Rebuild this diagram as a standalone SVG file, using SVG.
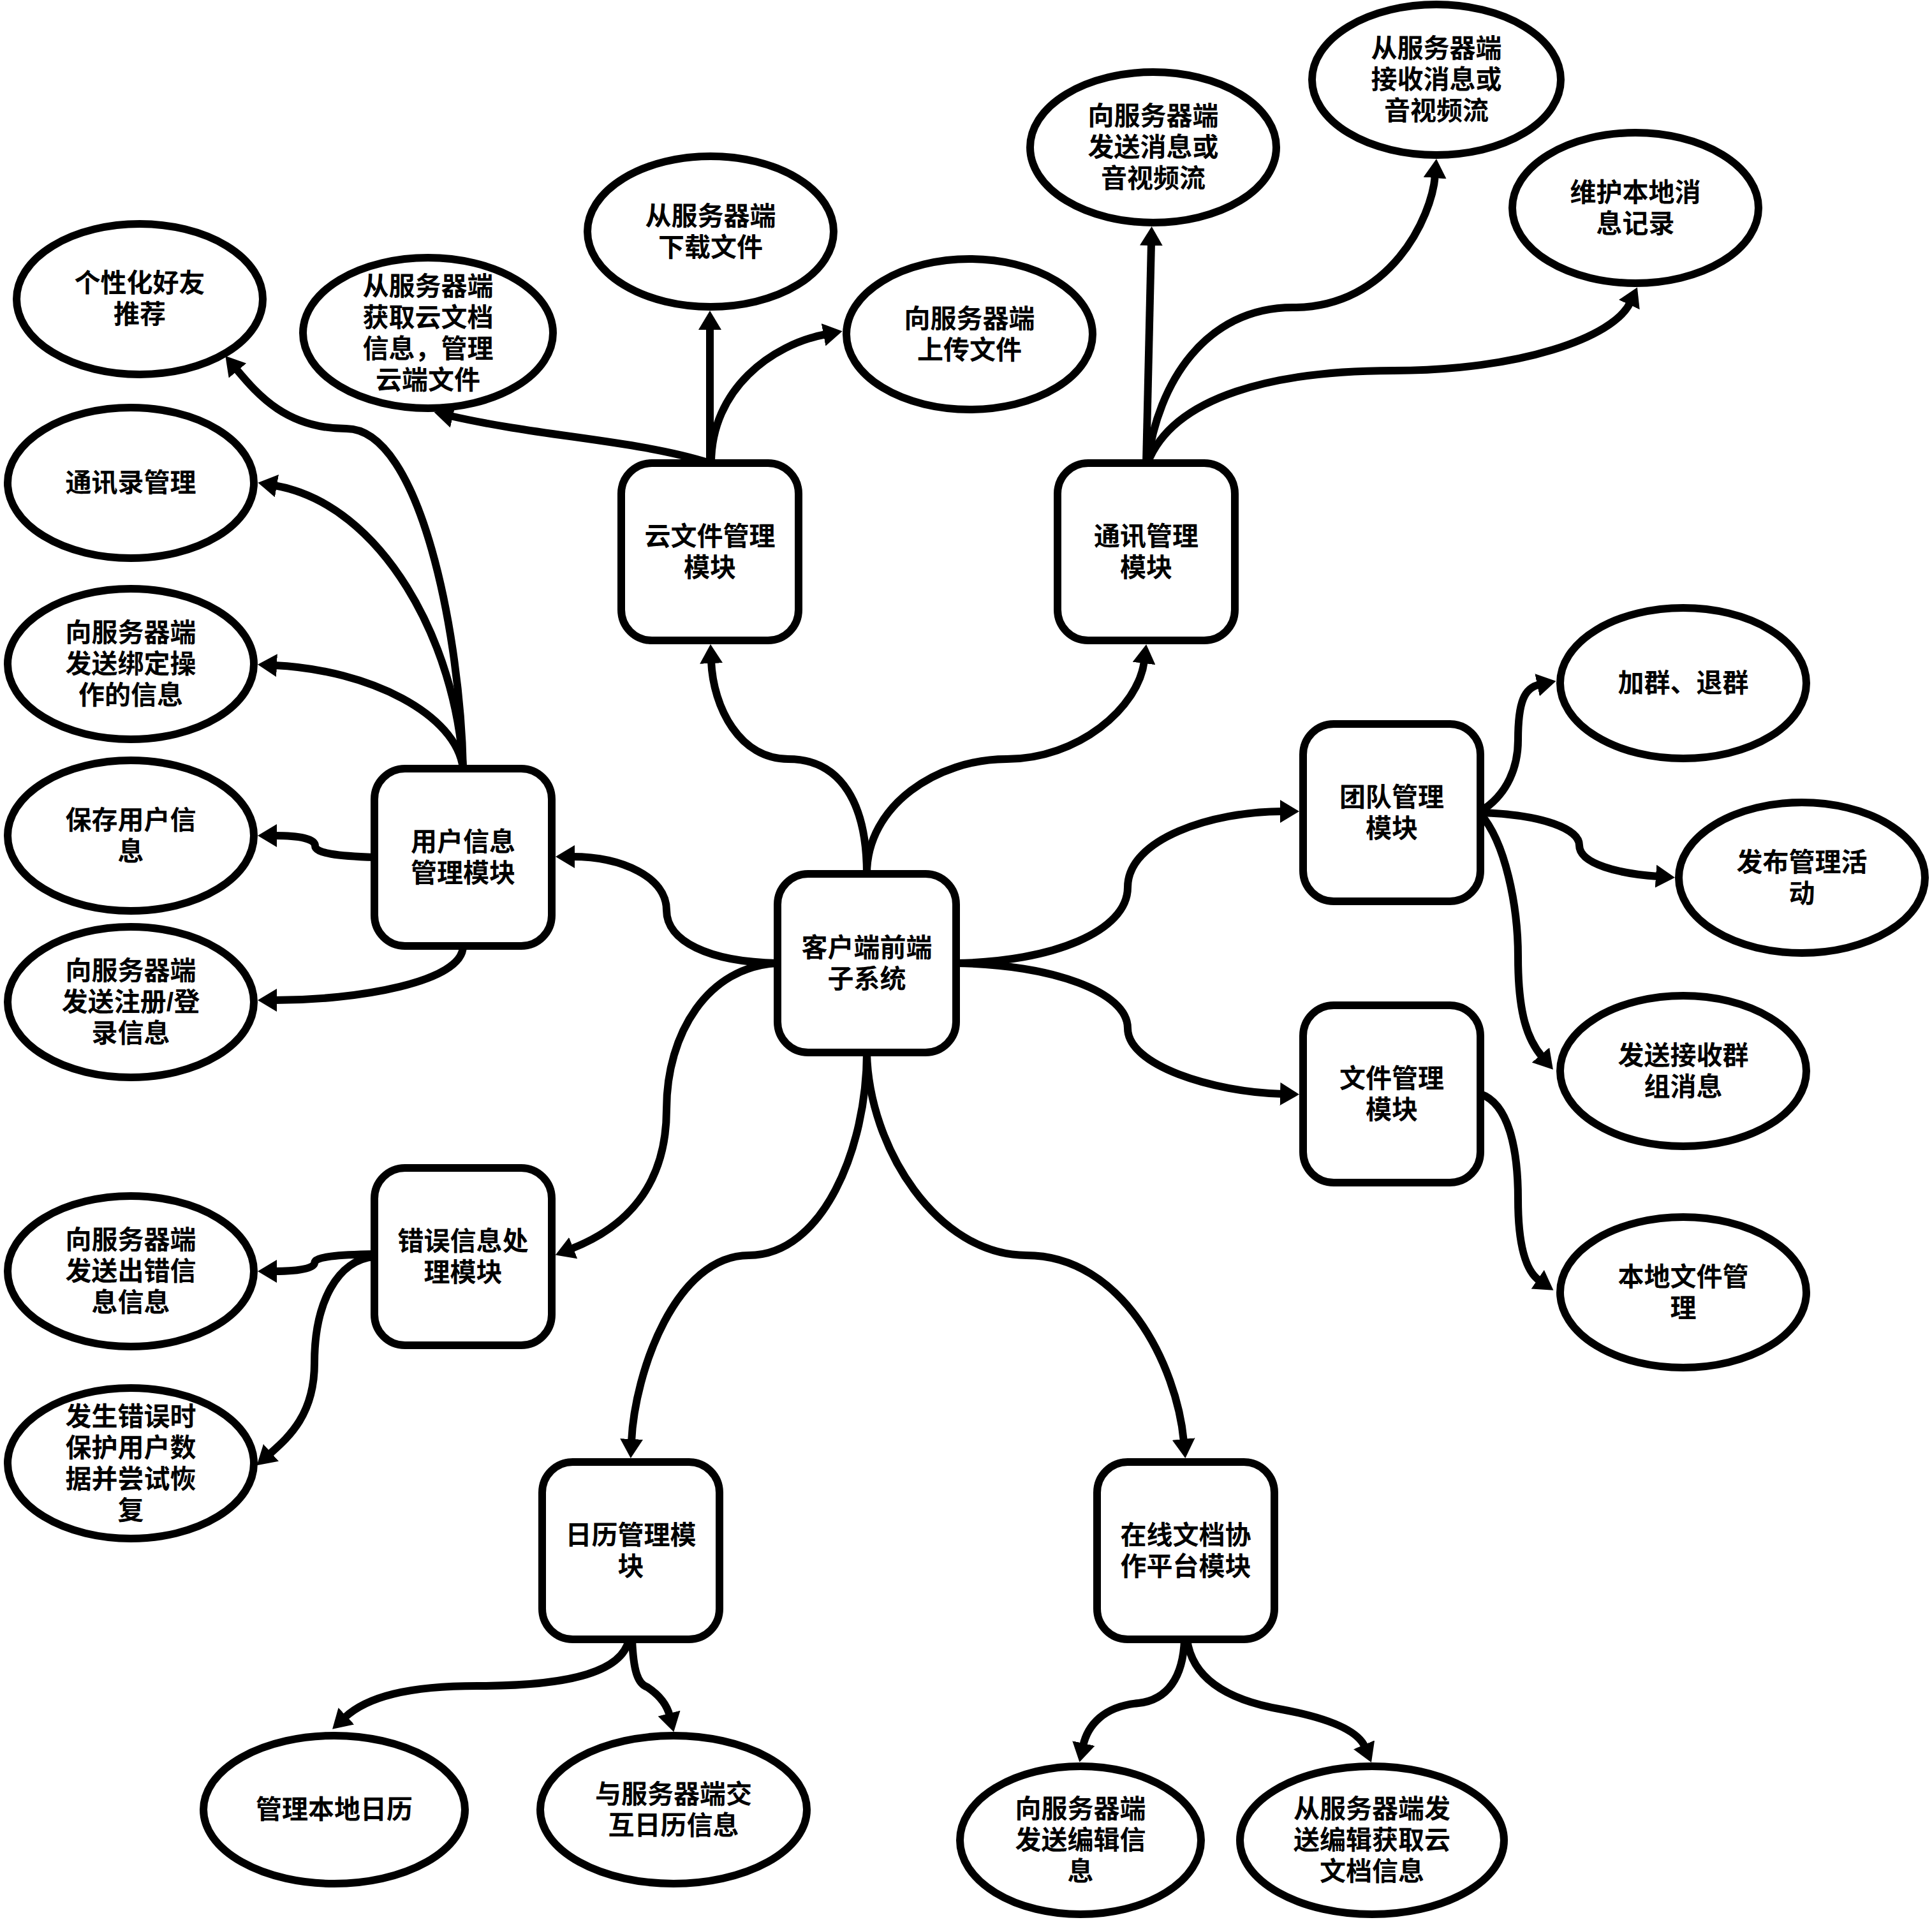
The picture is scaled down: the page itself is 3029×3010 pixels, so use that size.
<svg xmlns="http://www.w3.org/2000/svg" width="3029" height="3010" viewBox="0 0 3029 3010">
<style>
.n{fill:#fff;stroke:#000;stroke-width:12}
.t{font-family:"Liberation Sans","Noto Sans CJK SC",sans-serif;font-weight:bold;font-size:41px;text-anchor:middle;fill:#000}
.c{fill:none;stroke:#000;stroke-width:12;marker-end:url(#ah)}
</style>
<defs>
<marker id="ah" markerUnits="userSpaceOnUse" markerWidth="30" markerHeight="36" viewBox="0 0 30 36" refX="4" refY="18" orient="auto"><path d="M0,0 L30,18 L0,36 Z" fill="#000"/></marker>
</defs>
<rect width="3029" height="3010" fill="#fff"/>
<g id="connectors">
<path class="c" d="M1219,1510 C1110,1508 1045,1475 1045,1427 C1045,1375 975,1343 897,1343"/>
<path class="c" d="M1219,1510 C1110,1515 1045,1620 1045,1739 C1045,1860 980,1925 895,1958"/>
<path class="c" d="M1359,1370 C1359,1262 1320,1190 1236,1190 C1160,1190 1118,1110 1115,1036"/>
<path class="c" d="M1359,1370 C1359,1262 1470,1190 1578,1190 C1690,1190 1785,1110 1794,1036"/>
<path class="c" d="M1499,1510 C1650,1508 1768,1460 1768,1391 C1768,1315 1900,1272 2011,1272"/>
<path class="c" d="M1499,1510 C1650,1512 1768,1555 1768,1612 C1768,1670 1900,1712 2011,1715"/>
<path class="c" d="M1359,1650 C1359,1800 1290,1968 1174,1968 C1060,1968 995,2150 990,2260"/>
<path class="c" d="M1359,1650 C1362,1800 1470,1968 1609,1968 C1760,1968 1845,2140 1856,2260"/>
<path class="c" d="M726,1205 C722,1000 660,672 543,672 C450,672 405,620 370,578"/>
<path class="c" d="M726,1205 C716,1010 600,790 430,761"/>
<path class="c" d="M726,1205 C716,1120 580,1050 430,1043"/>
<path class="c" d="M587,1344 C530,1342 494,1338 494,1326 C494,1315 470,1310 430,1310"/>
<path class="c" d="M726,1483 C726,1540 560,1568 430,1568"/>
<path class="c" d="M587,1966 C530,1967 493,1970 493,1980 C493,1990 460,1993 430,1993"/>
<path class="c" d="M587,1970 C530,1975 493,2040 493,2137 C493,2220 450,2255 422,2280"/>
<path class="c" d="M1113,726 C1000,690 850,685 706,652"/>
<path class="c" d="M1113,726 L1113,513"/>
<path class="c" d="M1115,726 C1115,610 1210,540 1295,524"/>
<path class="c" d="M1797,726 L1805,381"/>
<path class="c" d="M1799,726 C1815,600 1890,482 2027,482 C2180,482 2245,340 2250,275"/>
<path class="c" d="M1799,726 C1840,620 2000,581 2185,581 C2380,581 2530,530 2556,474"/>
<path class="c" d="M2321,1272 C2365,1245 2380,1200 2380,1160 C2380,1100 2390,1078 2414,1073"/>
<path class="c" d="M2321,1274 C2420,1277 2476,1300 2476,1325 C2476,1355 2540,1370 2600,1374"/>
<path class="c" d="M2321,1276 C2360,1320 2380,1420 2380,1500 C2380,1590 2395,1630 2418,1657"/>
<path class="c" d="M2321,1715 C2365,1730 2380,1800 2380,1880 C2380,1960 2395,1995 2414,2008"/>
<path class="c" d="M986,2570 C975,2625 880,2643 749,2643 C640,2643 575,2660 540,2693"/>
<path class="c" d="M991,2570 C993,2620 1000,2640 1015,2645 C1030,2655 1045,2670 1050,2690"/>
<path class="c" d="M1857,2570 C1855,2630 1830,2665 1785,2670 C1730,2675 1705,2705 1698,2737"/>
<path class="c" d="M1861,2570 C1870,2640 1940,2668 2010,2680 C2090,2695 2130,2715 2140,2739"/>
</g>
<g id="central"><rect class="n" x="1219" y="1370" width="280" height="280" rx="48"/><text class="t" x="1359" y="1500">客户端前端<tspan x="1359" dy="49">子系统</tspan></text></g>
<g id="user"><rect class="n" x="587" y="1205" width="278" height="278" rx="48"/><text class="t" x="726" y="1334">用户信息<tspan x="726" dy="49">管理模块</tspan></text></g>
<g id="error"><rect class="n" x="587" y="1831" width="278" height="278" rx="48"/><text class="t" x="726" y="1960">错误信息处<tspan x="726" dy="49">理模块</tspan></text></g>
<g id="cloud"><rect class="n" x="974" y="726" width="278" height="278" rx="48"/><text class="t" x="1113" y="855">云文件管理<tspan x="1113" dy="49">模块</tspan></text></g>
<g id="comm"><rect class="n" x="1658" y="726" width="278" height="278" rx="48"/><text class="t" x="1797" y="855">通讯管理<tspan x="1797" dy="49">模块</tspan></text></g>
<g id="team"><rect class="n" x="2043" y="1135" width="278" height="278" rx="48"/><text class="t" x="2182" y="1264">团队管理<tspan x="2182" dy="49">模块</tspan></text></g>
<g id="file"><rect class="n" x="2043" y="1576" width="278" height="278" rx="48"/><text class="t" x="2182" y="1705">文件管理<tspan x="2182" dy="49">模块</tspan></text></g>
<g id="calendar"><rect class="n" x="850" y="2292" width="278" height="278" rx="48"/><text class="t" x="989" y="2421">日历管理模<tspan x="989" dy="49">块</tspan></text></g>
<g id="online"><rect class="n" x="1720" y="2292" width="278" height="278" rx="48"/><text class="t" x="1859" y="2421">在线文档协<tspan x="1859" dy="49">作平台模块</tspan></text></g>
<g id="e1"><ellipse class="n" cx="219" cy="469" rx="193" ry="118"/><text class="t" x="219" y="458">个性化好友<tspan x="219" dy="49">推荐</tspan></text></g>
<g id="e2"><ellipse class="n" cx="205" cy="757" rx="193" ry="118"/><text class="t" x="205" y="771">通讯录管理</text></g>
<g id="e3"><ellipse class="n" cx="205" cy="1041" rx="193" ry="118"/><text class="t" x="205" y="1006">向服务器端<tspan x="205" dy="49">发送绑定操</tspan><tspan x="205" dy="49">作的信息</tspan></text></g>
<g id="e4"><ellipse class="n" cx="205" cy="1310" rx="193" ry="118"/><text class="t" x="205" y="1300">保存用户信<tspan x="205" dy="49">息</tspan></text></g>
<g id="e5"><ellipse class="n" cx="205" cy="1571" rx="193" ry="118"/><text class="t" x="205" y="1536">向服务器端<tspan x="205" dy="49">发送注册/登</tspan><tspan x="205" dy="49">录信息</tspan></text></g>
<g id="e6"><ellipse class="n" cx="205" cy="1993" rx="193" ry="118"/><text class="t" x="205" y="1958">向服务器端<tspan x="205" dy="49">发送出错信</tspan><tspan x="205" dy="49">息信息</tspan></text></g>
<g id="e7"><ellipse class="n" cx="205" cy="2294" rx="193" ry="118"/><text class="t" x="205" y="2235">发生错误时<tspan x="205" dy="49">保护用户数</tspan><tspan x="205" dy="49">据并尝试恢</tspan><tspan x="205" dy="49">复</tspan></text></g>
<g id="e8"><ellipse class="n" cx="671" cy="522" rx="196" ry="118"/><text class="t" x="671" y="463">从服务器端<tspan x="671" dy="49">获取云文档</tspan><tspan x="671" dy="49">信息，管理</tspan><tspan x="671" dy="49">云端文件</tspan></text></g>
<g id="e9"><ellipse class="n" cx="1114" cy="363" rx="193" ry="118"/><text class="t" x="1114" y="353">从服务器端<tspan x="1114" dy="49">下载文件</tspan></text></g>
<g id="e10"><ellipse class="n" cx="1520" cy="524" rx="193" ry="118"/><text class="t" x="1520" y="514">向服务器端<tspan x="1520" dy="49">上传文件</tspan></text></g>
<g id="e11"><ellipse class="n" cx="1808" cy="231" rx="193" ry="118"/><text class="t" x="1808" y="196">向服务器端<tspan x="1808" dy="49">发送消息或</tspan><tspan x="1808" dy="49">音视频流</tspan></text></g>
<g id="e12"><ellipse class="n" cx="2252" cy="125" rx="195" ry="118"/><text class="t" x="2252" y="90">从服务器端<tspan x="2252" dy="49">接收消息或</tspan><tspan x="2252" dy="49">音视频流</tspan></text></g>
<g id="e13"><ellipse class="n" cx="2564" cy="326" rx="193" ry="118"/><text class="t" x="2564" y="316">维护本地消<tspan x="2564" dy="49">息记录</tspan></text></g>
<g id="e14"><ellipse class="n" cx="2639" cy="1071" rx="193" ry="118"/><text class="t" x="2639" y="1085">加群、退群</text></g>
<g id="e15"><ellipse class="n" cx="2825" cy="1376" rx="193" ry="118"/><text class="t" x="2825" y="1366">发布管理活<tspan x="2825" dy="49">动</tspan></text></g>
<g id="e16"><ellipse class="n" cx="2639" cy="1679" rx="193" ry="118"/><text class="t" x="2639" y="1669">发送接收群<tspan x="2639" dy="49">组消息</tspan></text></g>
<g id="e17"><ellipse class="n" cx="2639" cy="2026" rx="193" ry="118"/><text class="t" x="2639" y="2016">本地文件管<tspan x="2639" dy="49">理</tspan></text></g>
<g id="e18"><ellipse class="n" cx="524" cy="2837" rx="205" ry="116"/><text class="t" x="524" y="2851">管理本地日历</text></g>
<g id="e19"><ellipse class="n" cx="1056" cy="2837" rx="209" ry="116"/><text class="t" x="1056" y="2827">与服务器端交<tspan x="1056" dy="49">互日历信息</tspan></text></g>
<g id="e20"><ellipse class="n" cx="1694" cy="2885" rx="189" ry="116"/><text class="t" x="1694" y="2850">向服务器端<tspan x="1694" dy="49">发送编辑信</tspan><tspan x="1694" dy="49">息</tspan></text></g>
<g id="e21"><ellipse class="n" cx="2151" cy="2885" rx="207" ry="116"/><text class="t" x="2151" y="2850">从服务器端发<tspan x="2151" dy="49">送编辑获取云</tspan><tspan x="2151" dy="49">文档信息</tspan></text></g>
</svg>
